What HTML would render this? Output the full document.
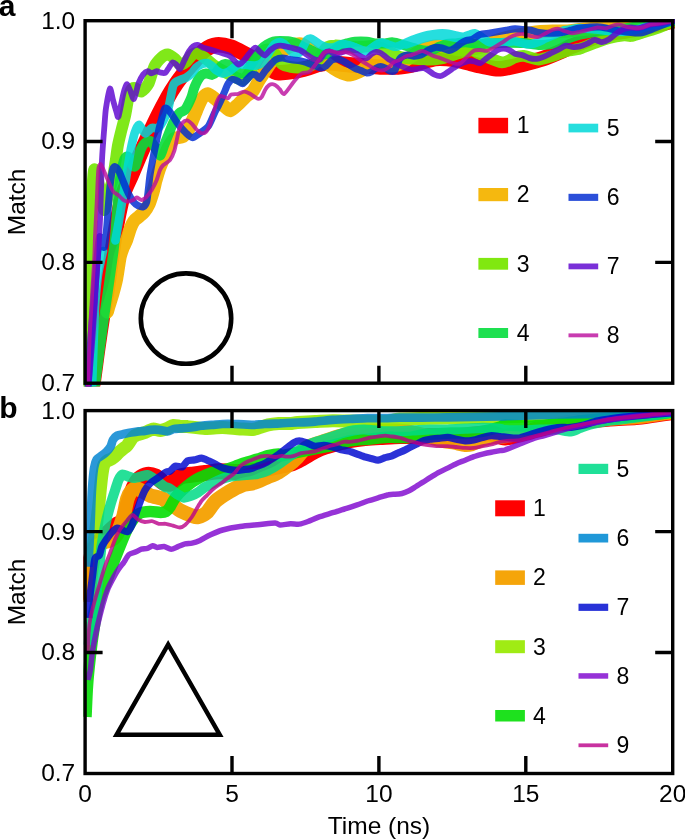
<!DOCTYPE html>
<html><head><meta charset="utf-8"><title>fig</title>
<style>html,body{margin:0;padding:0;background:#fff}svg{display:block;will-change:transform;opacity:0.999}text{font-family:"Liberation Sans",sans-serif;fill:#000}</style></head>
<body>
<svg width="685" height="840" viewBox="0 0 685 840">
<rect width="685" height="840" fill="#fff"/>
<defs><clipPath id="ca"><rect x="83.40" y="19.00" width="591.50" height="367.60"/></clipPath><clipPath id="cb"><rect x="83.40" y="408.90" width="591.50" height="368.00"/></clipPath></defs>
<g clip-path="url(#ca)" fill="none" stroke-linejoin="round" stroke-linecap="round">
<path d="M91.5 390.0C91.7 389.1 92.2 388.0 93.0 383.0C93.8 378.0 96.3 358.4 97.5 350.0C98.7 341.6 101.3 323.5 102.5 316.0C103.7 308.5 106.0 296.4 107.0 290.0C108.0 283.6 109.6 271.2 110.5 265.0C111.4 258.8 113.0 246.2 114.0 240.0C115.0 233.8 117.3 220.9 118.5 215.0C119.7 209.1 122.0 197.9 123.6 193.0C125.2 188.1 129.1 180.5 131.0 176.0C132.9 171.5 136.9 161.9 139.0 157.0C141.1 152.1 145.6 142.1 148.0 137.0C150.4 131.9 155.5 121.0 158.0 116.0C160.5 111.0 165.8 101.0 168.0 97.0C170.2 93.0 173.9 87.1 176.0 84.0C178.1 80.9 182.7 74.9 185.0 72.0C187.3 69.1 192.1 63.8 194.6 61.0C197.1 58.2 202.1 52.0 204.8 50.0C207.5 48.0 213.2 45.3 216.5 44.9C219.8 44.5 227.3 45.9 231.0 47.1C234.7 48.3 242.1 52.5 245.7 54.4C249.3 56.3 256.4 59.8 260.0 62.0C263.6 64.2 272.4 70.6 274.9 71.9C277.4 73.2 277.5 72.8 280.0 72.7C282.5 72.6 291.0 71.8 294.6 71.2C298.2 70.6 306.3 68.4 309.2 67.6C312.1 66.8 315.3 65.1 318.0 64.5C320.7 63.9 327.1 63.0 331.0 63.0C334.9 63.0 344.8 64.3 349.0 64.7C353.2 65.1 361.1 65.7 365.0 66.0C368.9 66.3 376.1 66.9 380.0 67.0C383.9 67.1 393.5 67.0 396.0 67.0C398.5 67.0 398.0 67.0 400.0 66.7C402.0 66.5 408.8 65.7 411.7 65.0C414.6 64.3 420.5 62.3 423.4 61.5C426.3 60.7 432.1 58.9 435.0 58.5C437.9 58.1 443.8 58.3 446.7 58.5C449.6 58.7 455.5 59.7 458.4 60.3C461.3 60.9 467.3 62.5 470.0 63.2C472.7 63.9 476.9 65.0 480.0 65.7C483.1 66.4 491.9 68.2 494.6 68.6C497.3 69.0 499.2 69.0 501.9 68.6C504.6 68.2 512.9 66.5 516.5 65.7C520.1 64.9 527.5 63.0 531.1 62.0C534.8 61.0 542.1 58.9 545.7 57.6C549.4 56.3 557.2 53.2 560.3 51.8C563.4 50.4 568.0 47.8 570.5 46.7C573.0 45.6 576.9 44.2 580.0 43.0C583.1 41.8 591.2 38.2 595.0 37.0C598.8 35.8 606.2 33.8 610.0 33.0C613.8 32.2 621.2 31.6 625.0 31.0C628.8 30.4 636.2 28.8 640.0 28.0C643.8 27.2 650.9 25.9 655.0 25.0C659.1 24.1 670.5 21.5 672.7 21.0" stroke="#ff0000" stroke-width="15.5" stroke-opacity="1.00"/>
<path d="M107.3 312.0C107.5 311.4 108.0 309.4 108.7 307.0C109.4 304.6 112.0 296.6 113.0 293.0C114.0 289.4 115.7 283.1 116.6 278.6C117.5 274.1 119.3 260.8 120.1 257.0C120.9 253.2 122.2 250.1 123.0 248.0C123.8 245.9 125.7 242.5 126.6 240.0C127.5 237.5 129.6 230.4 130.5 228.0C131.4 225.6 133.0 222.4 134.0 221.0C135.0 219.6 137.3 218.1 138.6 217.0C139.8 215.9 142.7 213.6 144.0 212.0C145.3 210.4 147.9 206.5 149.0 204.0C150.1 201.5 152.1 195.0 153.0 192.0C153.9 189.0 155.2 182.8 156.0 180.0C156.8 177.2 158.1 172.6 159.0 170.0C159.9 167.4 162.3 161.9 163.5 159.0C164.7 156.1 167.1 149.6 168.5 147.0C169.9 144.4 172.6 139.8 174.4 138.5C176.2 137.2 180.8 137.8 182.6 136.7C184.3 135.6 187.1 131.9 188.4 129.7C189.7 127.5 191.8 122.0 193.0 119.2C194.2 116.4 196.5 110.2 197.7 107.5C198.9 104.8 201.2 99.7 202.4 98.0C203.7 96.3 205.9 93.5 207.7 93.8C209.5 94.0 214.5 98.5 216.5 100.0C218.5 101.5 222.3 104.7 224.0 106.0C225.7 107.3 228.6 110.8 230.4 110.6C232.2 110.4 236.5 105.8 238.4 104.1C240.3 102.4 243.9 98.4 245.7 96.8C247.5 95.2 251.4 92.9 253.0 90.9C254.6 88.9 257.3 83.1 258.8 80.7C260.3 78.3 263.2 74.1 264.7 71.9C266.2 69.7 268.6 65.6 270.5 63.2C272.4 60.8 277.4 55.2 280.0 53.0C282.6 50.8 289.0 46.8 291.7 45.7C294.4 44.6 298.8 43.1 301.9 44.2C305.0 45.3 313.2 51.9 316.5 54.4C319.8 56.9 325.5 62.5 328.2 64.6C330.9 66.7 335.7 69.9 338.4 71.2C341.1 72.5 347.1 75.1 350.0 75.0C352.9 74.9 359.7 71.6 361.8 70.5C363.9 69.4 365.3 67.1 366.7 65.9C368.1 64.7 371.3 61.9 372.6 61.2C373.9 60.5 375.9 59.9 377.2 60.0C378.5 60.1 381.4 61.7 383.0 62.4C384.6 63.1 387.9 65.7 390.0 65.9C392.1 66.1 397.2 65.2 400.0 64.0C402.8 62.8 409.0 57.9 412.0 56.0C415.0 54.1 421.0 50.2 424.0 49.0C427.0 47.8 432.8 46.1 436.0 46.0C439.2 45.9 446.4 47.5 450.0 48.0C453.6 48.5 461.2 50.1 465.0 50.0C468.8 49.9 476.3 48.2 480.0 47.1C483.7 46.0 491.0 42.6 494.6 41.3C498.2 40.0 505.6 37.8 509.2 36.9C512.9 36.0 520.1 34.6 523.8 34.0C527.4 33.4 534.8 32.2 538.4 31.8C542.0 31.4 549.4 31.2 553.0 31.1C556.6 31.0 564.2 31.3 567.6 31.1C571.0 30.9 576.0 30.0 580.0 29.6C584.0 29.2 595.0 28.4 600.0 28.0C605.0 27.6 615.0 26.4 620.0 26.0C625.0 25.6 635.6 25.3 640.0 25.0C644.4 24.7 650.9 24.0 655.0 23.5C659.1 23.0 670.5 21.3 672.7 21.0" stroke="#f4b402" stroke-width="13.2" stroke-opacity="0.95"/>
<path d="M87.0 388.0C87.2 377.0 88.5 321.0 89.0 300.0C89.5 279.0 90.4 236.2 91.0 220.0C91.6 203.8 93.0 174.4 94.0 170.0C95.0 165.6 97.8 180.0 99.0 185.0C100.2 190.0 102.9 208.8 104.0 210.0C105.1 211.2 106.9 198.8 108.0 195.0C109.1 191.2 111.6 184.1 112.5 180.0C113.4 175.9 114.8 166.4 115.5 162.0C116.2 157.6 117.2 149.0 118.0 145.0C118.8 141.0 120.6 133.8 121.5 130.0C122.4 126.2 124.5 118.8 125.3 115.0C126.1 111.2 127.3 103.1 128.0 100.0C128.7 96.9 130.1 91.5 131.0 90.0C131.9 88.5 133.7 87.8 135.0 88.0C136.3 88.2 139.6 92.1 141.3 91.6C143.0 91.0 146.9 86.8 148.6 83.6C150.2 80.4 152.8 69.4 154.5 66.1C156.2 62.8 160.2 58.8 161.8 57.3C163.4 55.8 166.0 54.2 167.6 54.4C169.2 54.6 173.3 57.5 174.9 58.8C176.5 60.1 178.6 64.2 180.0 64.6C181.4 65.0 184.5 63.2 186.0 62.0C187.5 60.8 190.6 56.1 192.0 55.0C193.4 53.9 195.4 52.6 197.0 53.0C198.6 53.4 202.8 56.4 205.0 58.0C207.2 59.6 212.5 64.2 215.0 66.0C217.5 67.8 222.5 70.6 225.0 72.0C227.5 73.4 232.8 76.0 235.0 77.0C237.2 78.0 241.1 80.6 243.0 80.0C244.9 79.4 248.1 74.8 250.0 72.0C251.9 69.2 256.1 60.8 258.0 58.0C259.9 55.2 263.5 51.0 265.0 50.0C266.5 49.0 268.8 49.5 270.0 50.0C271.2 50.5 273.5 52.2 275.0 54.0C276.5 55.8 280.0 62.4 282.0 64.0C284.0 65.6 288.8 66.6 291.0 67.0C293.2 67.4 297.6 67.6 300.0 67.5C302.4 67.4 307.9 66.8 310.0 66.0C312.1 65.2 315.4 62.8 317.0 61.0C318.6 59.2 321.8 53.7 323.0 52.0C324.2 50.3 325.5 48.0 327.0 47.2C328.5 46.4 333.1 45.5 335.2 45.4C337.2 45.2 341.3 45.8 343.4 46.0C345.5 46.2 349.7 46.9 352.0 47.0C354.3 47.1 359.5 47.1 362.0 47.0C364.5 46.9 369.8 45.9 372.0 46.0C374.2 46.1 377.8 46.8 380.0 47.5C382.2 48.2 387.5 50.8 390.0 52.0C392.5 53.2 397.3 56.2 400.0 57.0C402.7 57.8 408.1 58.2 411.7 58.5C415.3 58.8 425.6 59.7 429.2 59.7C432.8 59.7 438.0 59.1 440.9 58.5C443.8 57.9 449.7 55.9 452.6 55.0C455.5 54.1 461.7 52.1 464.2 51.5C466.7 50.9 470.4 50.1 472.4 50.4C474.4 50.7 476.3 52.5 480.0 54.0C483.7 55.5 497.5 62.0 501.9 62.4C506.3 62.8 512.3 58.1 515.0 57.3C517.7 56.5 520.9 55.6 523.8 55.9C526.7 56.2 534.8 59.5 538.4 59.5C542.0 59.5 549.7 56.9 553.0 55.9C556.3 54.9 561.3 52.4 564.7 51.5C568.1 50.6 576.3 49.7 580.0 48.6C583.7 47.5 591.0 44.3 594.6 43.0C598.2 41.7 605.6 38.9 609.2 38.0C612.9 37.1 621.1 35.8 623.8 35.5C626.5 35.2 628.8 36.3 631.0 36.0C633.2 35.7 638.5 33.8 641.3 33.0C644.0 32.2 650.1 30.5 653.0 29.5C655.9 28.5 662.2 26.1 664.7 25.0C667.2 23.9 671.7 21.5 672.7 21.0" stroke="#72e500" stroke-width="11.8" stroke-opacity="0.90"/>
<path d="M94.0 388.0C94.2 387.4 94.6 388.1 95.3 383.3C96.0 378.6 98.6 358.3 99.7 350.0C100.8 341.7 102.5 329.2 104.2 316.7C106.0 304.2 112.2 261.5 113.7 250.0C115.2 238.5 115.5 231.2 116.0 225.0C116.5 218.8 117.5 205.6 118.0 200.0C118.5 194.4 119.3 184.9 120.0 180.0C120.7 175.1 122.9 163.9 123.8 161.0C124.7 158.1 126.2 156.8 127.0 156.5C127.8 156.2 129.2 157.8 130.0 159.0C130.8 160.2 132.3 165.1 133.0 166.0C133.7 166.9 134.9 167.0 135.5 166.0C136.1 165.0 137.3 160.1 138.0 158.0C138.7 155.9 140.1 150.9 141.0 149.0C141.9 147.1 143.8 143.9 145.0 143.0C146.2 142.1 149.5 140.4 151.0 141.4C152.5 142.4 155.7 148.9 156.9 150.7C158.1 152.4 159.5 156.0 160.4 155.4C161.3 154.8 162.9 148.6 163.9 146.0C164.9 143.4 167.3 137.3 168.5 134.4C169.7 131.5 171.9 125.3 173.2 122.7C174.5 120.1 177.5 115.0 179.0 113.4C180.5 111.8 183.7 111.1 184.9 109.9C186.1 108.7 187.6 105.6 188.4 104.0C189.2 102.4 190.7 99.1 191.5 97.0C192.3 94.9 193.5 89.6 194.6 87.0C195.7 84.4 198.9 78.0 200.4 76.3C201.9 74.6 204.8 73.6 206.3 73.4C207.8 73.2 210.8 75.1 212.1 74.9C213.4 74.7 215.4 73.1 216.5 72.0C217.6 70.9 219.8 67.1 220.9 66.1C222.0 65.1 224.2 64.0 225.3 63.9C226.4 63.8 228.3 64.6 229.6 65.4C230.9 66.2 234.0 69.5 235.5 70.5C237.0 71.5 240.0 73.2 241.3 73.4C242.6 73.6 244.6 72.9 245.7 72.0C246.8 71.1 248.8 67.9 250.1 66.1C251.4 64.3 254.4 59.5 255.9 57.3C257.4 55.1 260.3 50.2 261.8 48.6C263.3 47.0 266.2 45.1 267.6 44.2C269.1 43.3 271.8 41.9 273.4 41.5C274.9 41.1 278.0 41.0 280.0 41.0C282.0 41.0 287.4 41.1 289.5 41.4C291.6 41.7 295.2 42.7 297.0 43.5C298.8 44.3 302.3 46.7 304.0 47.5C305.7 48.3 308.8 49.3 310.5 50.0C312.2 50.7 315.7 52.2 317.5 52.8C319.3 53.4 323.1 54.7 325.0 54.5C326.9 54.3 331.1 52.1 333.0 51.0C334.9 49.9 338.2 47.0 340.0 46.0C341.8 45.0 345.1 43.9 347.0 43.4C348.9 42.9 352.5 41.9 355.0 41.7C357.5 41.5 364.2 41.5 366.7 41.7C369.2 41.9 372.7 43.2 375.0 43.4C377.3 43.6 382.9 43.5 385.0 43.4C387.1 43.3 390.1 42.2 392.0 42.3C393.9 42.4 397.5 43.4 400.0 44.0C402.5 44.6 408.8 46.7 411.7 47.5C414.6 48.3 420.9 50.2 423.4 50.5C425.9 50.8 429.9 50.5 432.0 50.0C434.1 49.5 438.1 47.2 440.0 46.5C441.9 45.8 445.0 44.4 447.0 44.0C449.0 43.6 453.7 43.6 456.0 43.4C458.3 43.2 462.4 42.1 465.4 42.2C468.4 42.3 476.4 44.1 480.0 44.2C483.6 44.3 491.0 43.4 494.6 43.2C498.2 43.0 505.6 42.7 509.2 42.7C512.9 42.7 520.1 42.7 523.8 43.0C527.4 43.3 535.1 44.8 538.4 44.9C541.7 45.0 547.2 44.7 550.1 44.2C553.0 43.8 559.2 42.1 561.8 41.3C564.3 40.5 568.2 38.4 570.5 37.6C572.8 36.8 576.3 35.5 580.0 34.7C583.7 33.9 595.0 31.7 600.0 31.0C605.0 30.3 615.0 29.6 620.0 29.0C625.0 28.4 635.6 26.6 640.0 26.0C644.4 25.4 650.9 24.6 655.0 24.0C659.1 23.4 670.5 21.4 672.7 21.0" stroke="#05dd3d" stroke-width="10.0" stroke-opacity="0.90"/>
<path d="M92.0 388.0C92.1 385.1 92.6 370.4 92.8 365.0C93.0 359.6 93.3 350.0 93.5 345.0C93.7 340.0 94.0 330.6 94.3 325.0C94.5 319.4 95.0 306.2 95.5 300.0C96.0 293.8 97.3 280.0 98.0 275.0C98.7 270.0 100.4 263.0 101.0 260.0C101.6 257.0 102.8 252.1 103.0 251.0M115.4 240.5C115.8 238.1 117.6 228.2 118.8 221.4C120.0 214.6 123.3 194.6 124.8 185.7C126.3 176.8 129.6 156.0 130.7 150.0C131.8 144.0 132.7 140.5 133.3 138.0C133.9 135.5 135.1 131.6 135.8 130.0C136.5 128.4 138.0 124.6 139.2 125.0C140.3 125.4 143.4 132.9 145.0 133.3C146.6 133.7 150.0 128.7 151.7 128.0C153.4 127.3 156.8 129.5 158.8 127.4C160.8 125.3 165.8 116.7 167.6 111.4C169.4 106.1 171.8 89.0 173.4 85.1C175.0 81.2 178.4 80.9 180.0 80.0C181.6 79.1 184.3 78.6 185.8 77.8C187.3 77.0 190.4 74.7 191.7 73.4C193.0 72.1 194.8 68.8 196.1 67.6C197.4 66.4 200.5 64.5 201.9 63.9C203.3 63.4 206.4 62.9 207.7 63.2C209.0 63.5 211.0 65.2 212.1 66.1C213.2 67.0 215.2 69.6 216.5 70.5C217.8 71.4 220.8 73.2 222.3 73.4C223.8 73.6 226.7 72.6 228.2 71.9C229.7 71.2 232.7 68.5 234.0 67.6C235.3 66.7 237.1 65.0 238.4 64.6C239.7 64.2 242.7 64.5 244.2 64.6C245.7 64.7 248.6 65.3 250.1 65.4C251.6 65.5 254.4 65.7 255.9 65.4C257.4 65.1 260.5 64.2 261.8 63.2C263.1 62.2 265.0 58.9 266.1 57.3C267.2 55.6 269.4 51.6 270.5 50.0C271.6 48.4 273.7 45.2 274.9 44.2C276.1 43.2 278.9 42.0 280.0 42.0C281.1 42.0 283.0 43.2 284.0 44.0C285.0 44.8 287.0 47.0 288.0 48.0C289.0 49.0 290.9 51.3 292.0 52.0C293.1 52.7 295.9 53.6 297.0 53.5C298.1 53.4 300.1 52.1 301.0 51.0C301.9 49.9 303.2 46.4 304.0 45.0C304.8 43.6 306.2 40.8 307.0 40.0C307.8 39.2 309.5 38.4 310.5 38.5C311.5 38.6 313.8 40.2 315.0 41.0C316.2 41.8 318.5 43.7 320.0 44.5C321.5 45.3 325.2 46.9 327.0 47.2C328.8 47.5 332.2 47.6 334.0 47.2C335.8 46.8 339.2 44.6 341.0 44.3C342.8 44.0 346.2 44.5 348.0 44.9C349.8 45.3 353.2 46.6 355.0 47.2C356.8 47.9 360.5 49.6 362.0 50.1C363.5 50.6 365.5 51.5 366.7 51.3C367.9 51.1 370.1 49.3 371.4 48.4C372.7 47.5 375.9 45.0 377.2 44.3C378.5 43.6 380.6 42.5 381.9 42.5C383.2 42.5 386.2 43.8 387.7 44.3C389.2 44.8 392.4 46.2 393.6 46.5C394.9 46.8 396.1 46.9 397.7 46.4C399.3 45.9 404.1 43.5 406.5 42.5C408.9 41.5 414.0 39.4 416.7 38.5C419.4 37.6 425.7 35.6 428.4 35.0C431.1 34.4 436.4 33.7 438.6 33.5C440.8 33.3 443.9 33.3 445.9 33.5C447.9 33.7 452.5 34.9 454.7 35.3C456.9 35.7 461.5 36.9 463.4 36.8C465.3 36.7 468.6 35.0 470.0 34.6C471.4 34.2 473.4 33.2 474.7 33.4C475.9 33.6 478.2 34.9 480.0 36.0C481.8 37.1 486.6 41.2 488.8 42.0C491.0 42.8 495.3 42.7 497.5 42.7C499.7 42.7 504.1 42.2 506.3 42.0C508.5 41.8 512.8 41.1 515.0 41.3C517.2 41.5 521.8 43.1 523.8 43.5C525.8 43.9 529.3 44.4 531.1 44.2C532.9 44.0 536.6 42.7 538.4 42.0C540.2 41.3 543.5 39.4 545.7 38.4C547.9 37.4 553.5 35.0 555.9 34.0C558.3 33.0 562.5 30.9 564.7 30.3C566.9 29.7 571.5 29.2 573.4 28.9C575.3 28.6 576.7 28.0 580.0 28.1C583.3 28.2 595.0 29.5 600.0 30.0C605.0 30.5 615.6 32.0 620.0 32.0C624.4 32.0 631.2 30.8 635.0 30.0C638.8 29.2 645.3 27.1 650.0 26.0C654.7 24.9 669.9 21.6 672.7 21.0M406.0 44.5C407.3 44.0 413.9 41.6 416.7 40.7C419.5 39.8 425.7 37.8 428.4 37.2C431.1 36.6 436.4 35.9 438.6 35.7C440.8 35.5 443.9 35.5 445.9 35.7C447.9 35.9 452.5 37.1 454.7 37.5C456.9 37.9 461.6 39.0 463.4 39.0C465.2 39.0 468.3 37.7 469.0 37.5" stroke="#00d8d8" stroke-width="8.7" stroke-opacity="0.85"/>
<path d="M88.0 388.0C88.2 383.2 89.2 361.0 90.0 350.0C90.8 339.0 93.1 311.2 94.0 300.0C94.9 288.8 96.3 267.9 97.0 260.0C97.7 252.1 99.0 239.1 99.6 237.0C100.2 234.9 101.4 241.8 102.0 243.0C102.6 244.2 103.8 248.9 104.4 247.0C105.0 245.1 106.2 233.0 106.7 228.0C107.2 223.0 107.9 211.9 108.3 206.7C108.7 201.5 109.5 191.3 110.0 186.7C110.5 182.1 111.9 172.5 112.5 170.0C113.1 167.5 114.2 166.5 115.0 166.7C115.8 166.9 118.2 169.8 119.2 171.7C120.2 173.6 122.2 179.0 123.3 181.7C124.4 184.4 127.1 190.8 128.3 193.3C129.6 195.8 132.1 200.1 133.3 201.7C134.6 203.3 137.1 205.2 138.3 205.8C139.6 206.4 142.2 207.2 143.3 206.7C144.4 206.2 146.1 203.8 146.7 201.7C147.3 199.6 147.9 193.3 148.3 190.0C148.7 186.7 149.4 179.2 150.0 175.0C150.6 170.8 152.5 161.1 153.3 156.7C154.1 152.3 155.9 144.0 156.7 140.0C157.5 136.0 159.0 128.9 160.0 125.0C161.0 121.0 163.4 110.0 164.7 108.4C165.9 106.8 168.3 110.0 170.0 112.0C171.7 114.0 176.0 121.4 178.0 124.0C180.0 126.6 184.2 131.3 186.0 133.0C187.8 134.7 190.7 137.6 192.4 137.6C194.2 137.6 198.0 134.4 200.0 133.0C202.0 131.6 206.6 128.6 208.5 126.0C210.4 123.4 213.7 114.6 215.0 112.0C216.3 109.4 217.8 106.9 218.7 105.0C219.6 103.1 221.5 98.9 222.3 97.0C223.1 95.1 224.6 91.7 225.3 90.0C226.0 88.3 227.3 84.9 228.2 83.6C229.1 82.2 231.3 79.5 232.6 79.2C233.9 78.9 237.1 80.9 238.4 81.4C239.7 82.0 241.7 83.9 242.8 83.6C243.9 83.3 246.1 80.3 247.2 79.2C248.3 78.1 250.4 75.4 251.5 74.9C252.6 74.4 254.9 74.5 255.9 74.9C256.9 75.4 258.5 79.0 259.6 78.5C260.7 78.0 263.7 72.9 265.0 71.2C266.3 69.5 269.0 66.4 270.3 65.0C271.6 63.6 274.0 60.7 275.5 59.8C277.0 58.9 280.5 58.0 282.5 58.0C284.5 58.0 289.1 59.5 291.3 59.8C293.5 60.1 298.1 60.4 300.0 60.7C301.9 61.0 304.7 61.9 306.2 62.4C307.7 62.9 310.9 64.5 312.3 65.0C313.7 65.5 316.5 66.4 317.6 66.8C318.7 67.2 319.9 68.1 321.0 68.0C322.1 67.9 324.7 67.0 326.0 66.0C327.3 65.0 330.3 60.9 331.7 60.0C333.1 59.1 336.0 58.8 337.5 58.9C339.0 59.0 341.9 60.5 343.4 61.2C344.9 61.9 347.8 63.8 349.2 64.7C350.6 65.6 353.5 67.5 355.0 68.2C356.5 68.9 359.4 69.9 360.9 70.5C362.4 71.1 365.4 72.8 366.7 72.9C368.0 73.1 370.2 72.3 371.4 71.7C372.6 71.1 374.8 68.9 376.0 68.2C377.2 67.5 379.5 66.5 380.7 66.5C381.9 66.5 384.2 67.6 385.4 68.2C386.6 68.8 388.8 70.8 390.0 71.1C391.2 71.4 393.4 72.1 394.7 70.5C395.9 68.9 398.5 60.4 400.0 58.5C401.5 56.6 405.2 55.3 407.0 55.0C408.8 54.7 412.2 56.2 414.0 56.2C415.8 56.2 419.2 55.7 421.0 55.0C422.8 54.3 426.2 51.4 428.0 50.4C429.8 49.4 433.2 47.7 435.0 47.4C436.8 47.1 440.2 47.6 442.0 48.0C443.8 48.4 447.4 50.4 449.0 50.4C450.6 50.4 453.4 48.9 454.9 48.0C456.4 47.1 459.2 44.4 460.7 43.4C462.2 42.4 465.1 40.9 466.6 40.4C468.1 39.9 470.7 40.0 472.4 39.3C474.1 38.6 477.9 35.3 480.0 34.5C482.1 33.7 486.6 33.5 488.8 33.2C491.0 32.9 495.3 32.2 497.5 31.8C499.7 31.4 504.1 30.7 506.3 30.3C508.5 29.9 512.8 29.0 515.0 28.9C517.2 28.8 521.8 29.4 523.8 29.6C525.8 29.8 529.3 29.9 531.1 30.3C532.9 30.7 536.6 32.1 538.4 32.5C540.2 32.9 543.9 33.1 545.7 33.2C547.5 33.3 551.0 33.3 553.0 33.2C555.0 33.1 559.6 32.9 561.8 32.5C564.0 32.1 568.2 30.9 570.5 30.3C572.8 29.8 576.3 28.5 580.0 28.1C583.7 27.7 595.0 26.6 600.0 27.0C605.0 27.4 615.0 30.2 620.0 31.0C625.0 31.8 635.6 33.4 640.0 33.0C644.4 32.6 650.9 29.5 655.0 28.0C659.1 26.5 670.5 21.9 672.7 21.0" stroke="#002bd1" stroke-width="7.1" stroke-opacity="0.83"/>
<path d="M88.5 388.0C89.1 380.8 91.9 344.8 93.0 330.0C94.1 315.2 96.1 283.8 97.0 270.0C97.9 256.2 99.4 233.8 100.0 220.0C100.6 206.2 101.4 171.9 102.0 160.0C102.6 148.1 104.0 131.5 104.5 125.0C105.0 118.5 105.3 112.5 106.0 108.0C106.7 103.5 109.0 89.7 109.9 88.7C110.8 87.7 112.2 97.1 113.0 100.0C113.8 102.9 115.8 109.9 116.5 112.0C117.2 114.1 117.7 118.8 118.5 116.6C119.3 114.4 122.2 98.4 123.2 94.4C124.2 90.4 125.9 84.8 126.7 84.3C127.5 83.8 129.1 88.2 130.0 90.0C130.9 91.8 132.9 99.7 134.0 98.9C135.1 98.1 137.3 86.6 138.4 83.6C139.5 80.6 141.6 76.5 142.8 74.9C144.0 73.4 146.8 71.4 147.9 71.2C149.0 71.0 150.4 73.4 151.5 73.4C152.6 73.4 155.4 71.3 156.6 71.2C157.8 71.1 159.9 72.5 161.0 72.7C162.1 72.9 164.4 73.3 165.4 72.7C166.4 72.1 168.1 68.9 169.0 67.6C169.9 66.3 171.8 62.8 172.7 62.4C173.6 62.0 175.5 63.8 176.4 64.6C177.3 65.4 179.0 69.5 180.0 69.0C181.0 68.5 183.3 62.5 184.4 60.3C185.5 58.1 187.7 53.2 188.8 51.5C189.9 49.8 192.0 47.2 193.1 46.4C194.2 45.6 196.2 44.7 197.5 44.9C198.8 45.1 201.9 47.2 203.4 47.8C204.9 48.3 207.6 48.8 209.2 49.3C210.8 49.8 214.7 51.0 216.5 51.5C218.3 52.0 222.2 53.2 223.8 53.7C225.4 54.2 228.3 55.1 229.6 55.9C230.9 56.7 232.9 59.2 234.0 60.3C235.1 61.4 237.3 64.4 238.4 64.6C239.5 64.8 241.5 63.0 242.8 61.7C244.1 60.4 247.3 56.0 248.6 54.4C249.9 52.8 252.1 50.1 253.0 49.3C253.9 48.5 255.0 47.4 255.9 47.8C256.8 48.2 259.2 51.2 260.3 52.2C261.4 53.2 263.8 55.7 265.0 55.4C266.2 55.1 268.9 51.2 270.3 50.1C271.7 49.0 274.9 46.7 276.4 46.2C277.9 45.7 281.0 45.7 282.5 45.8C284.0 45.9 287.2 46.8 288.6 47.1C290.0 47.4 292.5 48.0 293.9 48.4C295.3 48.8 298.6 49.5 300.0 50.1C301.4 50.8 304.0 52.7 305.3 53.6C306.6 54.5 309.2 56.4 310.5 57.2C311.8 58.0 314.6 59.5 315.8 59.8C317.0 60.1 318.9 60.4 320.0 59.5C321.1 58.6 323.5 54.0 324.7 53.0C325.9 52.0 328.1 51.2 329.3 51.3C330.5 51.4 332.7 53.4 334.0 53.6C335.3 53.8 338.6 53.3 339.9 53.0C341.2 52.7 343.2 51.6 344.5 51.3C345.8 51.0 348.9 50.4 350.4 50.7C351.9 51.0 354.8 52.8 356.2 53.6C357.6 54.4 360.7 56.5 362.0 57.1C363.3 57.7 365.5 58.7 366.7 58.3C367.9 57.9 370.2 55.0 371.4 54.2C372.6 53.4 374.8 52.0 376.0 51.9C377.2 51.8 379.5 52.4 380.7 53.0C381.9 53.6 384.2 55.6 385.4 56.5C386.6 57.4 388.8 59.3 390.0 60.0C391.2 60.7 393.4 61.7 394.7 62.4C395.9 63.1 398.6 64.8 400.0 65.5C401.4 66.2 404.3 67.4 405.8 67.9C407.3 68.4 410.2 69.5 411.7 69.6C413.2 69.7 416.0 69.2 417.5 69.0C419.0 68.8 422.1 67.8 423.4 67.9C424.7 68.1 426.7 69.4 428.0 70.2C429.3 71.0 432.3 73.6 433.9 74.3C435.5 75.0 439.1 76.3 440.9 76.0C442.6 75.7 446.3 73.0 447.9 72.0C449.5 71.0 452.2 68.9 453.7 67.9C455.2 67.0 458.1 65.1 459.6 64.4C461.1 63.7 464.1 62.4 465.4 62.0C466.7 61.6 468.8 61.0 470.0 60.9C471.2 60.8 473.4 61.2 474.7 61.5C475.9 61.8 478.6 63.5 480.0 63.2C481.4 62.9 484.3 59.9 485.8 58.8C487.3 57.7 490.2 55.5 491.7 54.4C493.2 53.3 496.0 50.7 497.5 50.0C499.0 49.3 501.9 48.6 503.4 48.6C504.9 48.6 507.8 49.4 509.2 50.0C510.6 50.6 513.4 53.1 515.0 53.7C516.6 54.3 520.5 54.6 522.3 55.1C524.1 55.6 527.8 57.6 529.6 58.1C531.4 58.6 535.1 59.0 536.9 58.8C538.7 58.6 542.4 57.3 544.2 56.6C546.0 55.9 549.7 53.9 551.5 53.0C553.3 52.1 557.0 50.2 558.8 49.3C560.6 48.4 564.3 46.0 566.1 45.7C567.9 45.4 571.7 47.0 573.4 47.1C575.1 47.2 578.3 46.8 580.0 46.4C581.7 46.0 585.5 44.4 587.3 43.6C589.1 42.8 592.8 40.1 594.6 39.9C596.4 39.7 600.1 42.2 601.9 42.1C603.7 42.0 607.4 40.3 609.2 39.2C611.0 38.1 614.7 34.7 616.5 33.4C618.3 32.1 622.0 29.7 623.8 29.0C625.6 28.3 629.3 27.6 631.1 27.5C632.9 27.4 636.6 28.4 638.4 28.2C640.2 28.0 643.9 26.5 645.7 26.0C647.5 25.5 651.0 24.3 653.0 23.9C655.0 23.5 659.3 23.5 661.8 23.1C664.3 22.7 671.3 21.3 672.7 21.0" stroke="#5f06d0" stroke-width="5.8" stroke-opacity="0.83"/>
<path d="M88.0 388.0C88.2 380.8 89.2 346.0 90.0 330.0C90.8 314.0 93.6 271.7 94.2 260.0C94.8 248.3 94.7 243.8 95.0 236.7C95.3 229.6 96.3 211.3 96.7 203.0C97.1 194.7 97.8 174.8 98.3 170.0C98.8 165.2 100.0 163.8 100.8 164.2C101.6 164.6 104.0 170.9 105.0 173.3C106.0 175.7 108.2 181.0 109.2 183.3C110.2 185.6 112.2 190.2 113.3 191.7C114.4 193.2 117.0 194.0 118.3 195.0C119.5 196.0 122.0 199.2 123.3 200.0C124.5 200.8 127.1 201.7 128.3 201.7C129.6 201.7 132.2 200.5 133.3 200.0C134.4 199.5 135.6 197.5 136.7 197.5C137.8 197.5 140.4 200.1 141.7 200.0C142.9 199.9 145.4 197.9 146.7 196.7C147.9 195.4 150.4 192.1 151.7 190.0C152.9 187.9 155.7 182.5 156.7 180.0C157.7 177.5 159.2 171.9 160.0 170.0C160.8 168.1 162.1 166.2 163.3 165.0C164.6 163.8 168.6 161.8 170.0 160.0C171.4 158.2 173.6 153.2 174.4 150.7C175.2 148.2 176.1 142.8 176.7 140.2C177.3 137.6 178.3 131.9 179.0 129.7C179.7 127.5 181.6 123.9 182.6 122.7C183.6 121.5 186.0 120.2 187.2 120.4C188.4 120.6 190.7 122.7 191.9 123.9C193.1 125.1 195.4 128.5 196.6 129.7C197.8 130.9 200.0 132.9 201.2 133.2C202.4 133.5 204.8 133.0 205.9 132.0C207.0 131.0 209.1 127.1 210.0 125.0C210.9 122.9 212.0 117.8 212.8 115.0C213.6 112.2 215.6 105.0 216.5 102.6C217.4 100.2 219.2 96.7 220.1 96.0C221.0 95.3 222.8 96.5 223.8 96.8C224.8 97.1 227.3 98.5 228.2 98.2C229.1 97.9 229.8 95.1 231.1 94.6C232.4 94.0 236.8 94.2 238.4 93.8C240.0 93.4 242.7 91.6 244.2 91.6C245.7 91.6 248.8 93.1 250.1 93.8C251.4 94.5 253.4 96.2 254.5 96.8C255.6 97.4 257.9 98.9 258.8 98.9C259.7 98.9 261.0 98.0 261.8 96.8C262.6 95.6 264.5 91.0 265.4 89.5C266.3 88.0 268.1 85.8 269.1 85.1C270.1 84.4 272.4 84.1 273.4 84.3C274.4 84.5 276.3 85.8 277.1 86.5C277.9 87.2 279.1 88.6 280.0 89.5C280.9 90.4 282.6 94.9 284.4 93.8C286.2 92.7 292.4 83.2 294.6 80.7C296.8 78.2 300.1 74.5 301.9 73.4C303.7 72.3 307.4 73.2 309.2 71.9C311.0 70.6 314.7 65.6 316.5 63.2C318.3 60.8 322.2 54.5 323.8 53.0C325.4 51.5 327.8 50.8 329.6 50.8C331.4 50.8 336.4 52.8 338.4 53.0C340.4 53.2 343.9 51.9 345.7 52.2C347.5 52.5 351.2 54.1 353.0 55.1C354.8 56.1 358.5 59.1 360.3 60.3C362.1 61.5 365.8 63.5 367.6 64.6C369.4 65.7 373.1 68.1 374.9 68.8C376.7 69.5 380.4 70.6 382.0 70.5C383.6 70.4 386.6 69.0 388.0 68.0C389.4 67.0 392.1 63.4 393.6 62.4C395.1 61.4 398.5 60.5 400.0 59.7C401.5 58.9 404.3 56.8 405.8 56.2C407.3 55.6 410.2 55.4 411.7 55.0C413.2 54.6 416.2 53.2 417.5 52.7C418.8 52.2 421.0 51.0 422.2 51.0C423.4 51.0 425.6 52.1 426.9 52.7C428.2 53.3 431.2 55.0 432.7 55.6C434.1 56.2 437.0 56.9 438.5 57.4C440.0 57.9 442.9 59.1 444.4 59.7C445.9 60.3 448.8 61.5 450.2 62.0C451.6 62.5 454.7 63.6 456.0 63.8C457.3 63.9 459.5 63.9 460.7 63.2C461.9 62.5 464.2 59.7 465.4 58.5C466.6 57.3 468.8 54.9 470.0 53.9C471.2 52.9 473.4 50.9 474.7 50.4C475.9 49.9 478.4 50.0 480.0 50.0C481.6 50.0 485.5 51.2 487.3 50.8C489.1 50.4 492.8 48.1 494.6 47.1C496.4 46.1 500.1 43.9 501.9 42.7C503.7 41.5 507.4 38.6 509.2 37.6C511.0 36.6 514.7 35.2 516.5 34.7C518.3 34.2 522.0 33.8 523.8 34.0C525.6 34.2 529.3 35.8 531.1 36.2C532.9 36.6 536.6 37.3 538.4 36.9C540.2 36.5 543.9 34.1 545.7 33.2C547.5 32.3 551.4 30.1 553.0 29.6C554.6 29.1 557.3 28.7 558.8 28.9C560.3 29.1 563.1 30.6 564.7 31.1C566.4 31.6 570.1 33.1 572.0 33.2C573.9 33.3 577.9 32.2 580.0 31.8C582.1 31.4 586.6 30.2 588.8 29.7C591.0 29.2 595.3 27.7 597.5 27.5C599.7 27.3 604.3 28.5 606.3 28.2C608.3 27.9 612.0 25.8 613.6 25.3C615.2 24.9 617.8 24.4 619.4 24.6C621.0 24.8 624.7 26.4 626.7 26.8C628.7 27.2 633.5 28.1 635.5 28.2C637.5 28.3 641.0 27.9 642.8 27.5C644.6 27.1 648.2 25.1 650.0 24.6C651.8 24.2 654.6 24.3 657.4 23.9C660.2 23.4 670.8 21.4 672.7 21.0" stroke="#ba0b9c" stroke-width="3.9" stroke-opacity="0.80"/>
</g>
<g clip-path="url(#cb)" fill="none" stroke-linejoin="round" stroke-linecap="butt">
<path d="M87.8 600.0C87.9 597.5 88.1 584.2 88.3 580.0C88.5 575.8 88.9 569.5 89.5 566.0C90.1 562.5 91.7 555.1 93.0 552.0C94.3 548.9 97.9 543.6 100.0 541.0C102.1 538.4 107.8 533.1 110.0 531.0C112.2 528.9 116.4 525.1 118.0 524.0C119.6 522.9 121.9 524.0 123.0 522.0C124.1 520.0 126.1 511.1 127.0 508.0C127.9 504.9 129.6 499.6 130.5 497.0C131.4 494.4 132.9 489.2 134.0 487.0C135.1 484.8 137.3 480.5 139.0 479.0C140.7 477.5 145.1 475.1 147.2 474.8C149.3 474.5 153.9 475.6 155.9 476.5C157.9 477.4 161.4 481.5 163.2 482.4C165.0 483.3 167.8 484.3 170.0 483.6C172.2 482.9 177.9 477.7 180.5 476.6C183.1 475.5 187.9 475.2 191.0 474.8C194.1 474.4 201.5 473.4 205.0 473.0C208.5 472.6 215.9 471.4 219.0 471.3C222.1 471.2 227.0 471.7 229.6 471.8C232.2 471.9 236.8 472.1 240.0 472.0C243.2 471.9 251.2 471.5 255.0 471.0C258.8 470.5 266.9 468.6 270.0 468.0C273.1 467.4 277.2 466.6 280.0 466.0C282.8 465.4 289.4 464.2 292.3 463.2C295.2 462.2 300.0 459.4 302.8 457.9C305.6 456.4 312.2 452.3 315.0 450.9C317.8 449.5 322.6 447.5 325.5 446.5C328.4 445.5 334.7 443.8 337.8 443.0C340.9 442.2 346.6 440.6 350.0 440.0C353.4 439.4 361.2 438.4 365.0 438.0C368.8 437.6 375.6 437.2 380.0 437.0C384.4 436.8 393.8 436.1 400.0 436.0C406.2 435.9 422.5 436.0 430.0 436.0C437.5 436.0 452.5 436.4 460.0 436.0C467.5 435.6 484.4 432.8 490.0 433.0C495.6 433.2 499.9 437.7 505.0 437.5C510.1 437.3 524.4 433.0 531.0 431.4C537.6 429.8 550.9 426.3 557.5 425.0C564.1 423.7 577.4 421.8 584.0 421.0C590.6 420.2 603.5 419.0 610.0 418.5C616.5 418.0 630.4 417.5 636.0 417.0C641.6 416.5 650.4 415.1 655.0 414.5C659.6 413.9 670.8 412.3 673.0 412.0" stroke="#ff0000" stroke-width="16.0" stroke-opacity="1.00"/>
<path d="M88.4 602.0C88.5 599.9 89.1 589.2 89.5 585.0C89.9 580.8 90.9 571.8 91.5 568.0C92.1 564.2 93.3 557.6 94.0 555.0C94.7 552.4 96.0 548.5 97.0 547.0C98.0 545.5 100.6 543.8 102.0 543.0C103.4 542.2 106.6 541.5 108.0 541.0C109.4 540.5 111.9 539.9 113.0 539.0C114.1 538.1 116.0 535.9 117.0 534.0C118.0 532.1 120.2 526.4 121.0 524.0C121.8 521.6 123.0 518.1 123.8 515.0C124.6 511.9 126.4 501.9 127.3 499.0C128.2 496.1 129.9 492.8 131.0 491.5C132.1 490.2 134.7 488.6 136.0 488.5C137.3 488.4 139.5 489.6 141.3 490.5C143.1 491.4 147.5 494.5 150.1 495.5C152.7 496.5 159.6 497.6 161.8 498.4C164.0 499.2 165.9 501.1 167.6 502.2C169.2 503.3 173.4 505.9 175.0 507.0C176.6 508.1 178.3 509.6 180.5 510.7C182.7 511.8 190.6 515.2 192.8 516.0C195.0 516.8 196.2 517.3 198.0 516.9C199.8 516.5 204.6 514.5 206.8 512.5C209.0 510.5 212.8 503.7 215.6 501.1C218.4 498.5 226.3 493.5 229.6 491.5C232.9 489.5 238.7 486.4 241.8 485.3C244.9 484.2 251.0 483.7 254.1 482.7C257.2 481.7 263.3 478.8 266.4 477.5C269.5 476.2 275.8 473.8 278.6 472.2C281.4 470.6 286.4 466.8 288.8 464.9C291.2 463.0 295.3 459.2 297.5 457.0C299.7 454.8 303.0 449.6 306.3 447.6C309.6 445.7 319.6 442.8 323.8 441.4C328.0 440.0 336.3 437.1 339.6 436.2C342.9 435.3 346.8 434.5 350.0 434.0C353.2 433.5 361.2 432.4 365.0 432.0C368.8 431.6 375.6 431.1 380.0 431.0C384.4 430.9 395.6 430.8 400.0 431.0C404.4 431.2 411.2 432.2 415.0 433.0C418.8 433.8 426.4 436.0 430.0 437.0C433.6 438.0 440.9 440.3 444.0 441.0C447.1 441.7 452.0 442.0 454.6 442.5C457.2 443.0 462.9 444.5 465.1 444.7C467.3 444.9 469.9 444.5 472.1 443.9C474.3 443.2 480.0 440.4 482.6 439.5C485.2 438.6 490.3 437.3 493.1 436.9C495.9 436.5 500.3 436.8 505.0 436.0C509.7 435.2 524.4 432.2 531.0 430.8C537.6 429.4 550.9 426.0 557.5 424.8C564.1 423.6 577.4 421.8 584.0 421.0C590.6 420.2 603.5 419.0 610.0 418.5C616.5 418.0 630.4 417.5 636.0 417.0C641.6 416.5 650.4 415.1 655.0 414.5C659.6 413.9 670.8 412.3 673.0 412.0" stroke="#f4a000" stroke-width="14.5" stroke-opacity="0.95"/>
<path d="M91.2 562.0C91.4 560.5 92.0 553.7 92.5 550.0C93.0 546.3 94.9 537.0 95.5 532.6C96.1 528.2 97.1 519.1 97.6 515.0C98.1 510.9 99.0 503.2 99.3 500.0C99.6 496.8 100.0 492.1 100.3 489.3C100.6 486.6 101.2 480.5 101.5 478.0C101.8 475.5 102.5 470.7 102.8 469.0C103.1 467.3 103.5 465.5 104.0 464.5C104.5 463.5 106.0 461.7 107.0 461.0C108.0 460.3 110.7 459.5 111.8 458.8C112.9 458.1 115.1 456.4 116.0 455.5C116.9 454.6 118.4 452.6 119.3 451.8C120.2 451.0 122.1 449.5 123.0 448.8C123.9 448.1 125.9 446.9 126.8 446.0C127.7 445.1 129.2 442.6 130.0 441.5C130.8 440.4 132.3 437.8 133.2 437.0C134.1 436.2 136.1 435.2 137.0 434.8C137.9 434.4 139.7 434.1 140.7 433.8C141.7 433.5 143.5 433.1 145.0 432.5C146.5 431.9 151.1 429.4 153.0 429.1C154.9 428.9 158.5 430.6 160.3 430.5C162.1 430.4 166.0 429.0 167.6 428.4C169.2 427.8 171.8 425.6 173.4 425.4C175.0 425.1 178.2 426.2 180.0 426.4C181.8 426.5 184.4 426.4 187.5 426.6C190.6 426.9 200.6 428.3 205.0 428.4C209.4 428.5 218.2 427.4 222.6 427.5C227.0 427.6 236.2 428.7 240.1 428.9C244.0 429.1 250.6 429.8 254.1 429.3C257.6 428.8 265.0 425.6 268.1 424.9C271.2 424.2 275.9 423.7 278.6 423.5C281.3 423.3 287.6 423.6 290.0 423.5C292.4 423.4 294.4 422.7 297.5 422.5C300.6 422.3 310.6 421.8 315.0 421.6C319.4 421.4 328.2 420.9 332.6 420.8C337.0 420.7 345.7 421.0 350.1 421.1C354.5 421.2 363.2 421.5 367.6 421.6C372.0 421.7 381.1 421.9 385.1 421.6C389.2 421.3 394.4 419.4 400.0 419.0C405.6 418.6 422.5 418.5 430.0 418.3C437.5 418.1 452.5 417.8 460.0 417.7C467.5 417.6 484.4 417.3 490.0 417.2C495.6 417.1 496.6 417.1 505.0 416.8C513.4 416.6 543.9 415.6 557.0 415.2C570.1 414.8 595.5 414.3 610.0 414.0C624.5 413.7 665.1 412.7 673.0 412.5" stroke="#95e900" stroke-width="13.0" stroke-opacity="0.90"/>
<path d="M86.0 717.0C86.2 712.9 87.0 692.1 87.6 684.5C88.1 676.9 89.6 663.0 90.4 655.9C91.2 648.8 93.1 634.3 94.2 627.3C95.3 620.3 97.8 606.1 99.5 600.0C101.2 593.9 106.1 583.2 108.0 578.1C109.9 573.0 113.2 563.4 115.0 558.8C116.8 554.2 120.5 545.0 122.0 541.3C123.5 537.6 126.0 531.7 127.3 529.1C128.6 526.5 131.1 522.3 132.6 520.3C134.1 518.3 137.4 514.4 139.6 513.3C141.8 512.2 147.5 511.6 150.1 511.5C152.7 511.4 158.6 512.4 160.6 512.4C162.6 512.4 164.8 512.2 166.0 511.5C167.2 510.8 169.1 508.4 170.0 507.0C170.9 505.6 172.6 502.0 173.5 500.5C174.4 499.0 176.4 496.2 177.5 495.0C178.6 493.8 180.8 491.6 182.0 490.5C183.2 489.4 185.6 487.1 187.0 486.0C188.4 484.9 191.4 482.6 193.0 481.5C194.6 480.4 198.1 478.4 200.0 477.5C201.9 476.6 206.0 474.8 208.0 474.0C210.0 473.2 214.0 472.0 216.0 471.5C218.0 471.0 221.6 470.5 224.0 469.9C226.4 469.3 232.4 467.3 235.0 466.4C237.6 465.5 242.2 463.7 245.0 462.8C247.8 461.9 254.7 460.0 257.6 459.1C260.5 458.2 265.5 456.1 268.1 455.5C270.7 454.9 277.1 454.0 278.6 454.0C280.1 454.0 277.6 456.0 280.0 455.8C282.4 455.6 293.1 453.2 297.5 452.3C301.9 451.4 310.6 449.7 315.0 448.8C319.4 447.9 328.2 446.3 332.6 445.3C337.0 444.3 345.7 441.7 350.1 440.9C354.5 440.1 363.2 439.6 367.6 439.2C372.0 438.8 381.7 437.6 385.1 437.4C388.5 437.2 392.0 437.4 395.0 437.4C398.0 437.4 405.5 437.7 409.0 437.4C412.5 437.1 419.5 435.2 423.0 434.8C426.5 434.4 433.5 434.1 437.0 433.9C440.5 433.7 447.6 433.1 451.1 433.0C454.6 432.9 461.2 433.2 465.1 433.0C469.0 432.8 478.2 432.1 482.6 431.3C487.0 430.6 497.3 427.8 500.1 427.0C502.9 426.2 501.1 425.1 505.0 425.0C508.9 424.9 524.7 426.1 531.3 426.0C537.9 425.9 550.9 424.7 557.5 424.0C564.1 423.3 577.2 421.2 583.8 420.5C590.4 419.8 603.5 418.6 610.1 418.0C616.7 417.4 629.8 416.6 636.4 416.0C643.0 415.4 658.0 414.0 662.6 413.5C667.2 413.0 671.7 412.2 673.0 412.0" stroke="#05de05" stroke-width="11.5" stroke-opacity="0.90"/>
<path d="M88.5 645.0C88.7 643.1 89.6 633.4 90.0 630.0C90.4 626.6 91.3 621.8 92.0 618.0C92.7 614.2 94.9 606.3 95.8 600.0C96.7 593.7 98.6 574.3 99.3 567.6C100.0 560.9 100.7 552.1 101.5 546.6C102.3 541.1 104.4 528.8 105.5 523.8C106.6 518.8 108.8 510.5 110.0 506.3C111.2 502.1 113.9 493.8 115.0 490.5C116.1 487.2 117.6 482.0 118.5 480.0C119.4 478.0 121.3 474.9 122.5 474.5C123.7 474.1 126.8 476.1 128.2 476.5C129.6 476.9 132.4 478.0 134.0 478.0C135.6 478.0 139.7 476.9 141.3 476.5C143.0 476.1 145.7 474.9 147.2 475.1C148.7 475.3 151.6 477.1 153.0 478.0C154.4 478.9 157.3 481.3 158.8 482.4C160.3 483.5 163.3 486.0 164.7 486.8C166.1 487.6 168.5 487.9 170.0 488.8C171.5 489.7 175.2 493.0 177.0 494.1C178.8 495.2 182.2 497.4 184.0 497.6C185.8 497.8 189.2 496.5 191.0 495.8C192.8 495.1 196.2 493.4 198.0 492.3C199.8 491.2 203.2 488.2 205.0 487.1C206.8 486.0 210.2 484.5 212.0 483.6C213.8 482.7 217.3 480.9 219.1 480.1C220.9 479.3 223.9 478.1 226.1 477.5C228.3 476.9 234.0 476.0 236.6 475.7C239.2 475.4 244.5 475.0 247.1 474.8C249.7 474.6 255.0 474.4 257.6 473.9C260.2 473.3 265.5 471.6 268.1 470.4C270.7 469.2 275.8 466.1 278.6 464.3C281.4 462.5 287.7 457.7 290.5 455.8C293.3 453.9 298.4 450.3 301.0 448.8C303.6 447.3 308.9 444.6 311.5 443.5C314.1 442.4 319.4 440.9 322.0 440.0C324.6 439.1 330.0 437.4 332.6 436.5C335.2 435.6 340.5 433.8 343.1 433.0C345.7 432.2 351.0 430.8 353.6 430.4C356.2 430.0 361.5 429.5 364.1 429.5C366.7 429.5 372.0 430.2 374.6 430.4C377.2 430.6 382.6 431.2 385.1 431.3C387.7 431.4 391.6 431.4 395.0 431.3C398.4 431.2 408.1 430.6 412.5 430.4C416.9 430.2 425.6 429.6 430.0 429.5C434.4 429.4 443.2 429.6 447.6 429.5C452.0 429.4 460.7 428.9 465.1 428.7C469.5 428.5 478.2 427.8 482.6 427.8C487.0 427.8 497.3 428.4 500.1 428.7C502.9 429.0 501.1 430.0 505.0 430.2C508.9 430.4 526.3 430.1 531.3 430.0C536.3 429.9 541.7 429.6 545.0 429.5C548.3 429.4 554.3 429.3 557.5 429.5C560.7 429.7 567.9 431.6 570.7 431.4C573.5 431.2 577.6 428.9 580.0 428.0C582.4 427.1 586.2 425.4 590.0 424.5C593.8 423.6 604.3 421.4 610.1 420.5C615.9 419.6 629.8 418.3 636.4 417.5C643.0 416.7 658.0 414.7 662.6 414.0C667.2 413.3 671.7 412.2 673.0 412.0" stroke="#00db86" stroke-width="10.2" stroke-opacity="0.85"/>
<path d="M88.3 566.8C88.4 564.4 89.0 552.6 89.3 548.0C89.5 543.4 90.1 534.1 90.3 530.0C90.5 525.9 90.7 520.1 90.9 515.0C91.1 509.9 91.6 495.2 92.0 489.3C92.4 483.4 93.5 471.6 94.1 467.9C94.7 464.1 95.9 460.8 96.8 459.3C97.7 457.8 99.9 457.0 101.1 456.1C102.3 455.2 105.2 453.0 106.4 451.8C107.6 450.6 109.9 447.9 110.7 446.4C111.5 444.9 112.1 441.3 112.9 440.0C113.7 438.7 115.8 436.4 117.1 435.7C118.4 435.0 121.8 434.5 123.6 434.1C125.3 433.7 129.2 432.8 131.1 432.5C133.0 432.2 136.9 431.6 138.6 431.4C140.3 431.2 143.6 431.1 145.0 430.9C146.4 430.7 148.4 429.9 150.1 429.8C151.8 429.7 156.6 429.6 158.8 429.8C161.0 430.0 165.8 431.4 167.6 431.3C169.4 431.2 171.8 429.5 173.4 429.1C175.0 428.7 178.3 428.6 180.5 428.4C182.7 428.2 188.4 427.8 191.0 427.5C193.6 427.2 198.9 426.1 201.5 425.8C204.1 425.5 209.4 425.1 212.0 424.9C214.6 424.7 220.0 424.1 222.6 424.0C225.2 423.9 230.5 423.9 233.1 424.0C235.7 424.1 241.0 424.3 243.6 424.4C246.2 424.5 251.5 424.9 254.1 424.9C256.7 424.8 262.0 424.1 264.6 424.0C267.2 423.9 273.2 423.8 275.1 423.7C277.0 423.6 277.2 423.5 280.0 423.4C282.8 423.2 293.1 422.7 297.5 422.5C301.9 422.3 310.6 421.9 315.0 421.6C319.4 421.3 328.2 420.2 332.6 419.9C337.0 419.6 345.7 419.2 350.1 419.0C354.5 418.8 363.2 418.2 367.6 418.1C372.0 418.0 381.1 418.2 385.1 418.1C389.2 418.0 395.5 417.7 400.0 417.6C404.5 417.5 415.4 417.6 421.3 417.6C427.2 417.6 441.0 417.4 447.6 417.3C454.2 417.2 467.2 417.0 473.8 416.9C480.4 416.8 495.0 416.5 500.1 416.4C505.2 416.3 507.8 416.0 515.0 415.8C522.2 415.6 545.6 414.8 557.5 414.5C569.4 414.2 595.7 414.0 610.1 413.7C624.5 413.4 665.1 412.5 673.0 412.3" stroke="#0083d0" stroke-width="8.7" stroke-opacity="0.83"/>
<path d="M88.8 618.0C88.9 615.8 89.2 605.0 89.6 600.0C90.0 595.0 91.6 583.2 92.3 578.1C93.0 573.0 94.0 561.6 94.9 558.8C95.8 555.9 98.4 556.8 99.3 555.3C100.2 553.8 101.0 548.6 101.9 546.6C102.8 544.6 105.1 541.4 106.3 539.6C107.5 537.9 110.2 534.0 111.5 532.6C112.8 531.2 115.5 528.5 116.8 528.2C118.1 527.9 120.7 529.5 122.0 529.9C123.3 530.3 126.1 532.2 127.3 531.7C128.5 531.2 130.6 527.9 131.7 525.6C132.8 523.3 135.0 516.4 136.1 513.3C137.2 510.2 139.3 503.9 140.4 501.0C141.5 498.1 143.6 492.7 144.8 490.5C146.0 488.3 148.6 485.0 150.1 483.5C151.6 482.0 155.1 479.9 157.1 478.5C159.1 477.1 164.5 473.1 166.1 472.2C167.7 471.3 168.8 472.1 170.0 471.3C171.2 470.5 173.8 466.7 175.3 466.1C176.8 465.6 180.8 467.6 182.3 466.9C183.8 466.2 186.0 461.7 187.5 460.8C189.0 459.9 192.8 460.2 194.5 459.9C196.2 459.6 199.8 458.1 201.5 458.2C203.2 458.3 206.7 460.0 208.5 460.8C210.3 461.6 213.8 463.4 215.6 464.3C217.4 465.2 220.8 467.1 222.6 467.8C224.3 468.5 227.8 469.3 229.6 469.6C231.3 469.9 234.8 470.4 236.6 470.4C238.3 470.4 241.8 469.8 243.6 469.6C245.3 469.4 248.8 469.1 250.6 468.7C252.3 468.3 255.9 466.8 257.6 466.1C259.4 465.4 262.9 464.3 264.6 463.4C266.4 462.5 269.9 460.2 271.6 459.1C273.4 458.0 276.7 455.9 278.6 454.5C280.5 453.1 285.1 449.4 287.0 447.9C288.9 446.4 292.5 443.6 294.0 442.7C295.5 441.8 297.8 440.9 299.3 440.9C300.8 440.9 304.3 442.0 306.3 442.7C308.3 443.4 312.8 445.9 315.0 446.2C317.2 446.5 321.6 445.2 323.8 445.3C326.0 445.4 330.4 446.4 332.6 447.0C334.8 447.6 339.1 449.1 341.3 449.7C343.5 450.2 348.1 450.8 350.1 451.4C352.1 451.9 355.4 453.4 357.1 454.1C358.9 454.8 362.4 456.2 364.1 456.7C365.9 457.2 369.4 458.0 371.1 458.4C372.9 458.8 376.4 460.3 378.1 460.2C379.9 460.1 383.4 458.2 385.1 457.6C386.9 457.1 390.5 456.4 392.1 455.8C393.7 455.2 396.8 453.6 398.0 453.0C399.2 452.4 400.6 452.0 402.0 451.4C403.4 450.8 407.2 448.8 409.0 447.9C410.8 447.0 414.2 445.3 416.0 444.4C417.8 443.5 421.2 441.5 423.0 440.9C424.8 440.2 428.0 439.5 430.0 439.2C432.0 438.9 436.6 438.5 438.8 438.3C441.0 438.1 445.4 437.3 447.6 437.4C449.8 437.5 454.1 438.8 456.3 439.2C458.5 439.6 462.9 440.8 465.1 440.9C467.3 441.0 471.6 440.4 473.8 440.0C476.0 439.6 480.4 437.9 482.6 437.4C484.8 436.9 489.2 435.8 491.4 435.7C493.6 435.6 498.1 436.3 500.1 436.5C502.1 436.7 504.9 437.2 507.1 437.4C509.4 437.6 515.1 438.5 518.1 438.1C521.1 437.7 528.0 435.2 531.3 434.2C534.6 433.2 541.1 431.0 544.4 430.2C547.7 429.4 554.2 428.0 557.5 427.6C560.8 427.2 567.4 427.7 570.7 427.4C574.0 427.1 580.5 425.8 583.8 425.0C587.1 424.2 593.7 421.8 597.0 421.0C600.3 420.2 606.8 419.4 610.1 418.9C613.4 418.4 619.9 417.5 623.2 417.1C626.5 416.7 632.8 416.1 636.4 415.8C640.0 415.5 647.4 414.9 652.0 414.5C656.6 414.1 670.4 412.8 673.0 412.6" stroke="#0008cf" stroke-width="7.2" stroke-opacity="0.83"/>
<path d="M88.0 680.0C88.3 678.6 90.0 672.5 90.5 669.0C91.0 665.5 91.6 657.2 92.4 652.0C93.2 646.8 95.9 633.2 97.2 627.3C98.5 621.3 101.6 609.2 102.9 604.4C104.2 599.6 106.6 592.1 108.0 588.6C109.4 585.1 112.9 578.8 114.2 576.4C115.5 574.0 117.3 571.1 118.5 569.3C119.7 567.5 122.5 564.1 123.8 562.3C125.1 560.4 127.5 555.8 129.0 554.5C130.5 553.2 134.5 552.5 136.0 551.8C137.5 551.1 139.9 549.6 141.3 549.2C142.7 548.8 146.0 548.7 147.4 548.3C148.8 547.9 151.5 545.8 152.7 545.7C153.9 545.6 155.7 547.3 157.1 547.4C158.5 547.5 162.3 546.4 164.1 546.6C165.8 546.8 169.3 549.2 171.1 549.2C172.8 549.2 176.3 547.3 178.1 546.6C179.8 545.9 183.3 544.3 185.1 543.9C186.8 543.5 190.2 543.5 192.1 543.1C194.0 542.7 197.8 541.4 200.0 540.4C202.2 539.4 207.2 536.3 210.0 535.0C212.8 533.7 218.8 531.1 222.6 530.0C226.4 528.9 235.7 527.1 240.1 526.5C244.5 525.9 253.2 525.2 257.6 524.8C262.0 524.4 272.3 523.0 275.1 523.0C277.9 523.0 278.1 524.9 280.0 525.0C281.9 525.1 288.1 523.9 290.5 523.8C292.9 523.7 297.1 524.4 299.3 524.1C301.5 523.8 305.6 522.4 308.0 521.5C310.4 520.6 315.4 518.2 318.5 517.1C321.6 516.0 329.1 513.8 332.6 512.7C336.1 511.6 343.5 509.4 346.6 508.4C349.7 507.4 354.5 505.8 357.1 504.9C359.7 504.0 365.0 501.9 367.6 501.0C370.2 500.1 375.5 498.7 378.1 497.9C380.7 497.1 386.5 495.1 388.6 494.7C390.7 494.2 393.3 494.4 395.0 494.3C396.7 494.2 400.2 493.9 402.0 493.5C403.8 493.1 407.2 491.7 409.0 490.8C410.8 489.9 414.2 487.6 416.0 486.5C417.8 485.4 421.2 483.2 423.0 482.1C424.8 481.0 428.0 478.9 430.0 477.7C432.0 476.5 436.6 473.6 438.8 472.4C441.0 471.2 445.4 469.2 447.6 468.1C449.8 467.0 454.1 464.7 456.3 463.7C458.5 462.7 462.9 461.1 465.1 460.2C467.3 459.3 471.6 457.5 473.8 456.7C476.0 455.9 480.4 454.7 482.6 454.1C484.8 453.6 489.2 452.7 491.4 452.3C493.6 451.9 498.4 450.9 500.1 450.6C501.8 450.3 502.8 450.7 505.0 450.0C507.2 449.3 514.8 446.0 518.1 444.7C521.4 443.4 528.0 440.5 531.3 439.4C534.6 438.2 541.1 436.5 544.4 435.5C547.7 434.5 554.2 432.5 557.5 431.5C560.8 430.5 567.4 428.4 570.7 427.6C574.0 426.8 580.5 425.7 583.8 425.0C587.1 424.3 593.7 423.0 597.0 422.3C600.3 421.6 606.8 420.2 610.1 419.7C613.4 419.1 619.9 418.3 623.2 417.9C626.5 417.5 633.1 416.6 636.4 416.3C639.7 416.0 646.2 415.5 649.5 415.2C652.8 414.9 659.7 414.0 662.6 413.7C665.5 413.4 671.7 412.7 673.0 412.6" stroke="#7c00cd" stroke-width="5.5" stroke-opacity="0.80"/>
<path d="M87.8 652.0C87.9 649.6 88.3 637.3 88.6 633.0C88.9 628.7 89.7 621.8 90.5 617.7C91.3 613.6 93.8 604.1 94.9 600.0C96.0 595.9 98.1 589.1 99.3 585.1C100.5 581.1 103.2 571.5 104.5 567.6C105.8 563.7 108.5 557.1 109.8 553.6C111.1 550.1 113.7 542.7 115.0 539.6C116.3 536.5 118.8 531.5 120.3 529.1C121.8 526.7 125.8 522.1 127.3 520.3C128.8 518.5 131.3 515.1 132.6 515.0C133.9 514.9 136.3 518.5 137.8 519.4C139.3 520.3 143.1 521.8 144.8 522.0C146.6 522.2 150.1 521.0 151.8 521.2C153.6 521.4 157.1 523.5 158.8 523.8C160.6 524.1 164.0 523.6 165.8 523.8C167.6 524.0 171.1 525.1 172.9 525.6C174.7 526.1 178.4 527.6 179.9 527.5C181.4 527.4 183.6 526.3 185.1 525.0C186.6 523.7 190.4 519.1 191.9 517.0C193.4 514.9 195.9 510.0 197.1 508.0C198.3 506.0 200.3 502.5 201.5 501.0C202.7 499.5 205.0 497.3 206.5 495.8C208.0 494.3 211.7 490.3 213.5 488.8C215.3 487.3 218.8 484.9 220.6 483.6C222.4 482.3 225.8 479.6 227.6 478.3C229.3 477.0 233.0 474.6 234.6 473.1C236.2 471.6 238.5 467.5 240.1 466.1C241.7 464.7 245.3 462.6 247.1 461.7C248.8 460.8 252.3 459.8 254.1 459.1C255.8 458.4 259.4 456.8 261.1 456.4C262.9 456.0 266.4 455.8 268.1 455.9C269.9 456.0 273.4 457.0 275.1 457.0C276.9 457.0 280.6 455.9 282.1 455.9C283.6 455.9 285.5 456.7 287.0 456.7C288.5 456.7 292.2 456.2 294.0 455.8C295.8 455.4 299.2 453.6 301.0 453.2C302.8 452.8 306.2 452.5 308.0 452.3C309.8 452.1 313.2 451.8 315.0 451.4C316.8 451.0 320.2 449.4 322.0 448.8C323.8 448.2 327.3 446.8 329.1 446.2C330.9 445.6 334.4 444.9 336.1 444.4C337.9 443.8 341.4 442.1 343.1 441.8C344.9 441.5 348.4 441.9 350.1 441.8C351.9 441.7 355.4 441.2 357.1 440.9C358.9 440.6 362.4 439.6 364.1 439.2C365.9 438.8 369.4 437.7 371.1 437.4C372.9 437.1 376.4 436.7 378.1 436.5C379.9 436.3 383.4 435.7 385.1 435.7C386.9 435.7 390.5 436.3 392.1 436.5C393.7 436.7 396.8 437.2 398.0 437.4C399.2 437.6 400.6 437.9 402.0 438.3C403.4 438.7 407.2 440.3 409.0 440.9C410.8 441.4 414.2 442.3 416.0 442.7C417.8 443.1 421.2 444.1 423.0 444.4C424.8 444.7 428.0 445.1 430.0 445.3C432.0 445.5 436.6 446.1 438.8 446.2C441.0 446.3 445.4 446.1 447.6 446.2C449.8 446.3 454.1 446.8 456.3 447.0C458.5 447.2 462.9 447.8 465.1 447.9C467.3 448.0 471.6 448.1 473.8 447.9C476.0 447.7 480.4 446.6 482.6 446.2C484.8 445.8 489.2 444.9 491.4 444.4C493.6 443.8 498.1 442.2 500.1 441.8C502.1 441.4 504.6 441.1 507.1 440.9C509.6 440.7 516.5 440.6 520.0 440.0C523.5 439.4 531.2 437.0 535.0 436.0C538.8 435.0 546.2 433.0 550.0 432.0C553.8 431.0 561.2 428.9 565.0 428.0C568.8 427.1 575.6 425.9 580.0 425.0C584.4 424.1 595.0 421.9 600.0 421.0C605.0 420.1 615.0 418.6 620.0 418.0C625.0 417.4 633.4 416.8 640.0 416.0C646.6 415.2 668.9 412.5 673.0 412.0" stroke="#ba0088" stroke-width="3.8" stroke-opacity="0.80"/>
</g>
<g stroke="#000" stroke-width="3.4" fill="none">
<rect x="85.1" y="20.7" width="587.6" height="362.5"/>
<path d="M232.0 20.7V38.2M232.0 383.2V365.7"/>
<path d="M378.9 20.7V38.2M378.9 383.2V365.7"/>
<path d="M525.8 20.7V38.2M525.8 383.2V365.7"/>
<path d="M85.1 141.5H102.6M672.7 141.5H655.2"/>
<path d="M85.1 262.4H102.6M672.7 262.4H655.2"/>
</g>
<g stroke="#000" stroke-width="3.4" fill="none">
<rect x="85.1" y="410.6" width="587.6" height="362.9"/>
<path d="M232.0 410.6V428.1M232.0 773.5V756.0"/>
<path d="M378.9 410.6V428.1M378.9 773.5V756.0"/>
<path d="M525.8 410.6V428.1M525.8 773.5V756.0"/>
<path d="M85.1 531.6H102.6M672.7 531.6H655.2"/>
<path d="M85.1 652.5H102.6M672.7 652.5H655.2"/>
</g>
<circle cx="186" cy="318.6" r="45.2" fill="none" stroke="#000" stroke-width="4.6"/>
<path d="M168.15 644.5L219.7 734.65H116.6Z" fill="none" stroke="#000" stroke-width="4.5" stroke-linejoin="miter" stroke-miterlimit="10"/>
<text x="75.2" y="28.6" font-size="24.5" text-anchor="end">1.0</text>
<text x="75.2" y="149.4" font-size="24.5" text-anchor="end">0.9</text>
<text x="75.2" y="270.3" font-size="24.5" text-anchor="end">0.8</text>
<text x="75.2" y="391.1" font-size="24.5" text-anchor="end">0.7</text>
<text x="75.2" y="418.5" font-size="24.5" text-anchor="end">1.0</text>
<text x="75.2" y="539.5" font-size="24.5" text-anchor="end">0.9</text>
<text x="75.2" y="660.4" font-size="24.5" text-anchor="end">0.8</text>
<text x="75.2" y="781.4" font-size="24.5" text-anchor="end">0.7</text>
<text x="85.1" y="801.9" font-size="24.5" text-anchor="middle">0</text>
<text x="232.0" y="801.9" font-size="24.5" text-anchor="middle">5</text>
<text x="378.9" y="801.9" font-size="24.5" text-anchor="middle">10</text>
<text x="525.8" y="801.9" font-size="24.5" text-anchor="middle">15</text>
<text x="672.7" y="801.9" font-size="24.5" text-anchor="middle">20</text>
<text x="379" y="834.2" font-size="24.5" text-anchor="middle">Time (ns)</text>
<text transform="translate(25.1 201.9) rotate(-90)" font-size="24.5" text-anchor="middle">Match</text>
<text transform="translate(25.1 592.0) rotate(-90)" font-size="24.5" text-anchor="middle">Match</text>
<text x="-1.2" y="16.2" font-size="30" font-weight="bold">a</text>
<text x="-0.7" y="417.7" font-size="30" font-weight="bold">b</text>
<rect x="478.4" y="117.8" width="29.7" height="15.5" fill="#ff0000"/>
<text x="516.8" y="133.4" font-size="23.0">1</text>
<rect x="478.4" y="188.0" width="29.7" height="13.2" fill="#f5b80f"/>
<text x="516.8" y="202.4" font-size="23.0">2</text>
<rect x="478.4" y="257.9" width="29.7" height="11.8" fill="#80e810"/>
<text x="516.8" y="271.6" font-size="23.0">3</text>
<rect x="478.4" y="328.0" width="29.7" height="10.0" fill="#1ee050"/>
<text x="516.8" y="340.8" font-size="23.0">4</text>
<rect x="568.5" y="123.7" width="29.7" height="8.7" fill="#26dede"/>
<text x="606.8" y="135.8" font-size="23.0">5</text>
<rect x="568.5" y="193.8" width="29.7" height="7.1" fill="#2b4fd9"/>
<text x="606.8" y="205.1" font-size="23.0">6</text>
<rect x="568.5" y="263.5" width="29.7" height="5.8" fill="#7a30d8"/>
<text x="606.8" y="274.2" font-size="23.0">7</text>
<rect x="568.5" y="333.4" width="29.7" height="3.9" fill="#c83cb0"/>
<text x="606.8" y="343.2" font-size="23.0">8</text>
<rect x="495.2" y="500.3" width="29.7" height="16.0" fill="#ff0000"/>
<text x="533.0" y="516.1" font-size="23.0">1</text>
<rect x="495.2" y="570.4" width="29.7" height="14.5" fill="#f5a50a"/>
<text x="533.0" y="585.4" font-size="23.0">2</text>
<rect x="495.2" y="640.2" width="29.7" height="13.0" fill="#a0eb14"/>
<text x="533.0" y="654.5" font-size="23.0">3</text>
<rect x="495.2" y="710.0" width="29.7" height="11.5" fill="#1ee11e"/>
<text x="533.0" y="723.5" font-size="23.0">4</text>
<rect x="578.5" y="463.8" width="29.7" height="10.2" fill="#20e098"/>
<text x="616.4" y="476.7" font-size="23.0">5</text>
<rect x="578.5" y="533.8" width="29.7" height="8.7" fill="#2098d8"/>
<text x="616.4" y="545.9" font-size="23.0">6</text>
<rect x="578.5" y="603.7" width="29.7" height="7.2" fill="#2832d7"/>
<text x="616.4" y="615.1" font-size="23.0">7</text>
<rect x="578.5" y="673.2" width="29.7" height="5.5" fill="#9632d7"/>
<text x="616.4" y="683.8" font-size="23.0">8</text>
<rect x="578.5" y="743.4" width="29.7" height="3.8" fill="#c832a0"/>
<text x="616.4" y="753.1" font-size="23.0">9</text>
</svg>
</body></html>
